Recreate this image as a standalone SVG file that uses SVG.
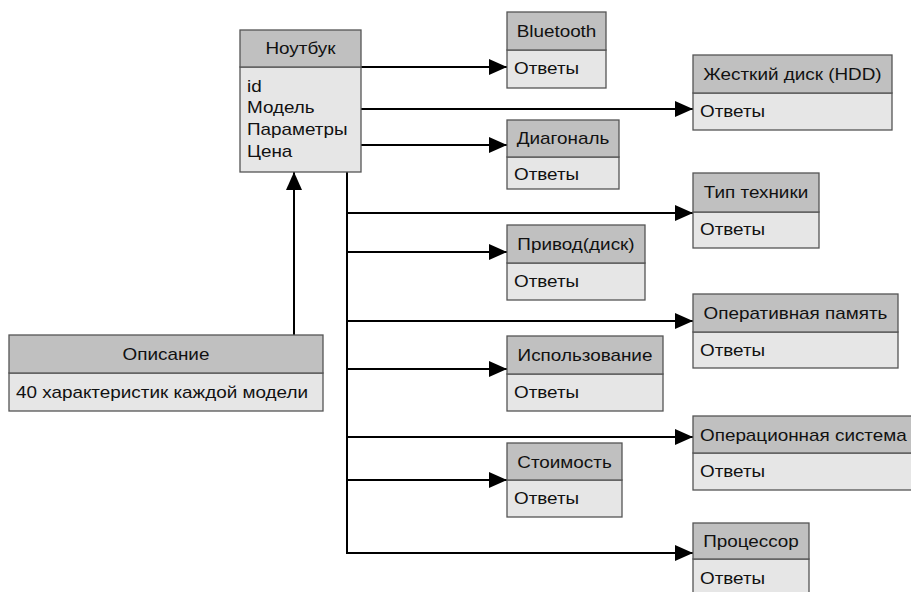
<svg xmlns="http://www.w3.org/2000/svg" width="911" height="592" viewBox="0 0 911 592">
<defs>
<marker id="arr" markerWidth="18" markerHeight="16" refX="18" refY="8" orient="auto" markerUnits="userSpaceOnUse">
<path d="M0,0 L18,8 L0,16 Z" fill="#000"/>
</marker>
<style>
.hd{fill:#c0c0c0;stroke:#555;stroke-width:1.3}
.bd{fill:#e6e6e6;stroke:#555;stroke-width:1.3}
text{font-family:"Liberation Sans",Arial,sans-serif;font-size:16px;fill:#111;transform-box:fill-box;transform:scale(1.18,1);transform-origin:left center}
text.c{text-anchor:middle;transform-origin:center}
.ln{fill:none;stroke:#000;stroke-width:2}
</style>
</defs>
<rect width="911" height="592" fill="#fff"/>
<g id="connectors">
<path class="ln" d="M361,67 H507" marker-end="url(#arr)"/>
<path class="ln" d="M361,109 H693" marker-end="url(#arr)"/>
<path class="ln" d="M361,145 H507" marker-end="url(#arr)"/>
<path class="ln" d="M347,172 V553"/>
<path class="ln" d="M347,213 H693" marker-end="url(#arr)"/>
<path class="ln" d="M347,252 H507" marker-end="url(#arr)"/>
<path class="ln" d="M347,321 H693" marker-end="url(#arr)"/>
<path class="ln" d="M347,369 H507" marker-end="url(#arr)"/>
<path class="ln" d="M347,437 H693" marker-end="url(#arr)"/>
<path class="ln" d="M347,480 H507" marker-end="url(#arr)"/>
<path class="ln" d="M346,553 H693" marker-end="url(#arr)"/>
<path class="ln" d="M294,335 V172" marker-end="url(#arr)"/>
</g>
<g id="notebook">
<rect class="bd" x="240" y="67" width="121" height="105"/>
<rect class="hd" x="240" y="30" width="121" height="37"/>
<text class="c" x="300.5" y="54">Ноутбук</text>
<text x="247" y="92">id</text>
<text x="247" y="113">Модель</text>
<text x="247" y="135">Параметры</text>
<text x="247" y="157">Цена</text>
</g>
<g id="bluetooth">
<rect class="bd" x="507" y="50" width="99" height="38"/>
<rect class="hd" x="507" y="12" width="99" height="38"/>
<text class="c" x="556.5" y="37">Bluetooth</text>
<text x="514" y="74">Ответы</text>
</g>
<g id="hdd">
<rect class="bd" x="693" y="93" width="199" height="37"/>
<rect class="hd" x="693" y="55" width="199" height="38"/>
<text class="c" x="792.5" y="80">Жесткий диск (HDD)</text>
<text x="700" y="117">Ответы</text>
</g>
<g id="diagonal">
<rect class="bd" x="507" y="157" width="112" height="32"/>
<rect class="hd" x="507" y="120" width="112" height="37"/>
<text class="c" x="563" y="144">Диагональ</text>
<text x="514" y="180">Ответы</text>
</g>
<g id="type">
<rect class="bd" x="693" y="212" width="126" height="36"/>
<rect class="hd" x="693" y="173" width="126" height="39"/>
<text class="c" x="756" y="198">Тип техники</text>
<text x="700" y="235">Ответы</text>
</g>
<g id="drive">
<rect class="bd" x="507" y="263" width="138" height="37"/>
<rect class="hd" x="507" y="225" width="138" height="38"/>
<text class="c" x="576" y="250">Привод(диск)</text>
<text x="514" y="287">Ответы</text>
</g>
<g id="ram">
<rect class="bd" x="693" y="332" width="205" height="36"/>
<rect class="hd" x="693" y="294" width="205" height="38"/>
<text class="c" x="795.5" y="319">Оперативная память</text>
<text x="700" y="356">Ответы</text>
</g>
<g id="usage">
<rect class="bd" x="507" y="374" width="156" height="37"/>
<rect class="hd" x="507" y="336" width="156" height="38"/>
<text class="c" x="585" y="361">Использование</text>
<text x="514" y="398">Ответы</text>
</g>
<g id="os">
<rect class="bd" x="693" y="453" width="230" height="37"/>
<rect class="hd" x="693" y="416" width="230" height="37"/>
<text x="700" y="441">Операционная система</text>
<text x="700" y="477">Ответы</text>
</g>
<g id="cost">
<rect class="bd" x="507" y="480" width="115" height="37"/>
<rect class="hd" x="507" y="443" width="115" height="37"/>
<text class="c" x="564.5" y="468">Стоимость</text>
<text x="514" y="504">Ответы</text>
</g>
<g id="cpu">
<rect class="bd" x="693" y="559" width="116" height="40"/>
<rect class="hd" x="693" y="523" width="116" height="36"/>
<text class="c" x="751" y="547">Процессор</text>
<text x="700" y="584">Ответы</text>
</g>
<g id="description">
<rect class="bd" x="9" y="373" width="314" height="38"/>
<rect class="hd" x="9" y="335" width="314" height="38"/>
<text class="c" x="166" y="360">Описание</text>
<text x="16" y="398">40 характеристик каждой модели</text>
</g>
</svg>
